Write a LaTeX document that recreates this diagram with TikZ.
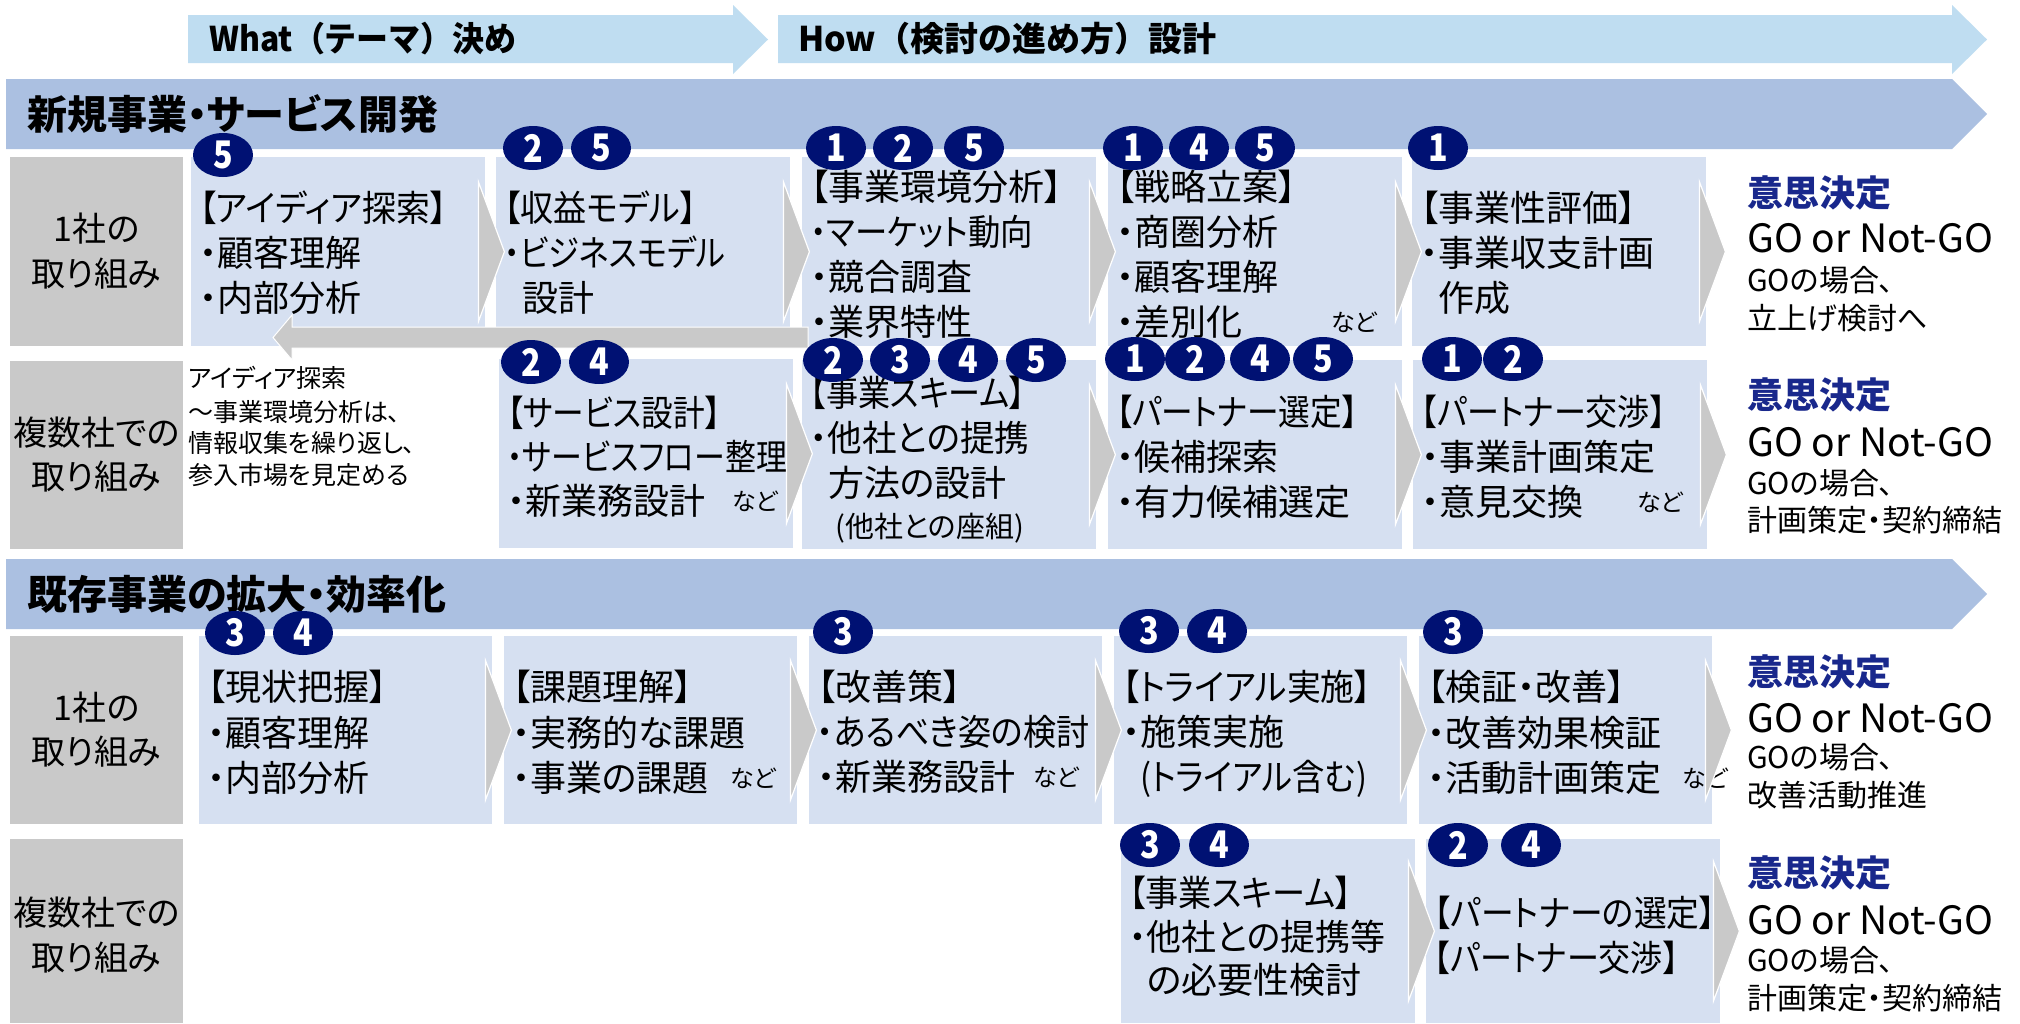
\documentclass[tikz,border=0pt]{standalone}
\usepackage{fontspec}
\usepackage{graphicx}
\usetikzlibrary{shapes.geometric,calc}
\setmainfont{Noto Sans CJK JP}[RawFeature=+palt]
\newfontfamily\jpfull{Noto Sans CJK JP}
\definecolor{toparrow}{RGB}{191,221,241}
\definecolor{banner}{RGB}{171,192,225}
\definecolor{boxc}{RGB}{214,224,241}
\definecolor{grayc}{RGB}{201,201,201}
\definecolor{navy}{RGB}{0,17,115}
\definecolor{dec}{RGB}{25,40,140}
\newcommand\mychev[1]{\path[chev] ($(#1.east)+(-7,-70)$) -- ($(#1.east)+(19,0)$) -- ($(#1.east)+(-7,70)$) -- cycle;}
\newcommand\sx[2]{\scalebox{#1}[1]{#2}}
\begin{document}
\begin{tikzpicture}[x=1pt,y=-1pt,
  gbox/.style={fill=grayc, draw=none, anchor=north west, inner sep=0, minimum width=173pt},
  bbox/.style={fill=boxc, draw=none, anchor=north west, inner sep=0, minimum width=294pt},
  chev/.style={fill=grayc, draw=white, line width=1.2pt},
  retarrow/.style={fill=grayc, draw=white, line width=1pt},
  badge/.style={ellipse, fill=navy, minimum width=60pt, minimum height=44pt, inner sep=0, text=white, font=\bfseries\fontsize{38}{38}\selectfont},
  t36/.style={anchor=west, inner sep=0, font=\fontsize{36}{36}\selectfont, text height=31.7pt, text depth=4.3pt},
  t24/.style={anchor=west, inner sep=0, font=\fontsize{24}{24}\selectfont, text height=21.1pt, text depth=2.9pt},
  t25/.style={anchor=west, inner sep=0, font=\fontsize{25}{25}\selectfont, text height=22pt, text depth=3pt},
  t29/.style={anchor=west, inner sep=0, font=\fontsize{29}{29}\selectfont, text height=25.5pt, text depth=3.5pt},
  t30/.style={anchor=west, inner sep=0, font=\fontsize{30}{30}\selectfont, text height=26.4pt, text depth=3.6pt},
  t39/.style={anchor=west, inner sep=0, font=\fontsize{39}{39}\selectfont, text height=34.3pt, text depth=4.7pt},
  dech/.style={anchor=west, inner sep=0, font=\bfseries\fontsize{36}{36}\selectfont, text height=31.7pt, text depth=4.3pt, text=dec},
  ttl/.style={anchor=west, inner sep=0, font=\bfseries\fontsize{40}{40}\selectfont, text height=35.2pt, text depth=4.8pt},
  arrt/.style={anchor=west, inner sep=0, font=\jpfull\bfseries\fontsize{34}{34}\selectfont, text height=29.9pt, text depth=4.1pt},
  lab/.style={anchor=center, inner sep=0, font=\fontsize{34}{34}\selectfont, text height=29.9pt, text depth=4.1pt},
]
\useasboundingbox (0,0) rectangle (2020,1023);
\fill[white] (0,0) rectangle (2020,1023);

% top arrows
\path[fill=toparrow] (188,15) -- (733,15) -- (733,5) -- (768,39.5) -- (733,74) -- (733,63) -- (188,63) -- cycle;
\path[fill=toparrow] (778,15) -- (1952,15) -- (1952,5) -- (1987,39.5) -- (1952,74) -- (1952,63) -- (778,63) -- cycle;
\node[arrt] (what) at (209,39) {\sx{0.94}{What（テーマ）決め}};
\node[arrt] (how) at (798,39) {How（検討の進め方）設計};

% banners
\path[fill=banner] (6,79) -- (1952,79) -- (1987,114) -- (1952,149) -- (6,149) -- cycle;
\path[fill=banner] (6,559) -- (1952,559) -- (1987,594) -- (1952,629) -- (6,629) -- cycle;
\node[ttl] (ttl1) at (27,114) {新規事業・サービス開発};
\node[ttl] (ttl2) at (27,594) {既存事業の拡大・効率化};

% gray label boxes
\node[gbox, minimum height=189pt] (GA) at (10,157) {};
\node[gbox, minimum height=188pt] (GB) at (10,361) {};
\node[gbox, minimum height=188pt] (GC) at (10,636) {};
\node[gbox, minimum height=184pt] (GD) at (10,839) {};
\node[lab] (GA1) at (96.5,229) {1社の};
\node[lab] (GA2) at (96.5,274) {取り組み};
\node[lab] (GB1) at (96.5,433) {複数社での};
\node[lab] (GB2) at (96.5,477) {取り組み};
\node[lab] (GC1) at (96.5,708) {1社の};
\node[lab] (GC2) at (96.5,752) {取り組み};
\node[lab] (GD1) at (96.5,913) {複数社での};
\node[lab] (GD2) at (96.5,958) {取り組み};

% step boxes
\node[bbox, minimum height=189pt] (A1) at (191,157) {};
\node[bbox, minimum height=189pt] (A2) at (496,157) {};
\node[bbox, minimum height=189pt] (A3) at (802,157) {};
\node[bbox, minimum height=189pt] (A4) at (1108,157) {};
\node[bbox, minimum height=189pt] (A5) at (1412,157) {};
\node[bbox, minimum height=189pt] (B2) at (499,359) {};
\node[bbox, minimum height=189pt] (B3) at (802,360) {};
\node[bbox, minimum height=189pt] (B4) at (1108,360) {};
\node[bbox, minimum height=189pt] (B5) at (1413,360) {};
\node[bbox, minimum width=293pt, minimum height=188pt] (C1) at (199,636) {};
\node[bbox, minimum width=293pt, minimum height=188pt] (C2) at (504,636) {};
\node[bbox, minimum width=293pt, minimum height=188pt] (C3) at (809,636) {};
\node[bbox, minimum width=293pt, minimum height=188pt] (C4) at (1114,636) {};
\node[bbox, minimum width=293pt, minimum height=188pt] (C5) at (1419,636) {};
\node[bbox, minimum height=184pt] (D1) at (1121,839) {};
\node[bbox, minimum height=184pt] (D2) at (1426,839) {};

% return arrow
\path[retarrow] (808,327) -- (292,327) -- (292,315) -- (273,337.5) -- (292,360) -- (292,348) -- (808,348) -- cycle;

% texts row A
\node[t36] (A1a) at (199,208) {\sx{0.94}{【アイディア探索】}};
\node[t36] (A1b) at (199,253) {・顧客理解};
\node[t36] (A1c) at (199,298) {・内部分析};
\node[t36] (A2a) at (504,208) {\sx{0.92}{【収益モデル】}};
\node[t36] (A2b) at (504,253) {\sx{0.87}{・ビジネスモデル}};
\node[t36] (A2c) at (504,298) {\phantom{・}設計};
\node[t36] (A3a) at (810,187) {【事業環境分析】};
\node[t36] (A3b) at (810,232) {\sx{0.9}{・マーケット動向}};
\node[t36] (A3c) at (810,277) {・競合調査};
\node[t36] (A3d) at (810,322) {・業界特性};
\node[t36] (A4a) at (1116,187) {【戦略立案】};
\node[t36] (A4b) at (1116,232) {・商圏分析};
\node[t36] (A4c) at (1116,277) {・顧客理解};
\node[t36] (A4d) at (1116,322) {・差別化};
\node[t24] (A4e) at (1331,322) {など};
\node[t36] (A5a) at (1420,208) {【事業性評価】};
\node[t36] (A5b) at (1420,253) {・事業収支計画};
\node[t36] (A5c) at (1420,298) {\phantom{・}作成};
\node[dech] (DA1) at (1747,193) {意思決定};
\node[t39] (DA2) at (1747,238) {GO or Not-GO};
\node[t30] (DA3) at (1747,280) {GOの場合、};
\node[t30] (DA4) at (1747,318) {立上げ検討へ};

% note
\node[t25] (N1) at (188,378) {アイディア探索};
\node[t25] (N2) at (188,412) {～事業環境分析は、};
\node[t25] (N3) at (188,443) {情報収集を繰り返し、};
\node[t25] (N4) at (188,475) {参入市場を見定める};

% texts row B
\node[t36] (B2a) at (507,413) {\sx{0.88}{【サービス設計】}};
\node[t36] (B2b) at (507,457) {\sx{0.86}{・サービスフロー整理}};
\node[t36] (B2c) at (507,501) {・新業務設計};
\node[t24] (B2d) at (732,501) {など};
\node[t36] (B3a) at (810,393) {\sx{0.89}{【事業スキーム】}};
\node[t36] (B3b) at (810,438) {\sx{0.96}{・他社との提携}};
\node[t36] (B3c) at (810,483) {\phantom{・}方法の設計};
\node[t29] (B3d) at (835,526) {(他社との座組)};
\node[t36] (B4a) at (1116,412) {\sx{0.88}{【パートナー選定】}};
\node[t36] (B4b) at (1116,457) {・候補探索};
\node[t36] (B4c) at (1116,502) {・有力候補選定};
\node[t36] (B5a) at (1421,412) {\sx{0.89}{【パートナー交渉】}};
\node[t36] (B5b) at (1421,457) {・事業計画策定};
\node[t36] (B5c) at (1421,502) {・意見交換};
\node[t24] (B5d) at (1637,502) {など};
\node[dech] (DB1) at (1747,395) {意思決定};
\node[t39] (DB2) at (1747,442) {GO or Not-GO};
\node[t30] (DB3) at (1747,483) {GOの場合、};
\node[t30] (DB4) at (1747,520) {計画策定・契約締結};

% texts row C
\node[t36] (C1a) at (207,687) {【現状把握】};
\node[t36] (C1b) at (207,733) {・顧客理解};
\node[t36] (C1c) at (207,778) {・内部分析};
\node[t36] (C2a) at (512,687) {【課題理解】};
\node[t36] (C2b) at (512,733) {・実務的な課題};
\node[t36] (C2c) at (512,778) {・事業の課題};
\node[t24] (C2d) at (730,778) {など};
\node[t36] (C3a) at (817,687) {【改善策】};
\node[t36] (C3b) at (817,732) {\sx{0.92}{・あるべき姿の検討}};
\node[t36] (C3c) at (817,777) {・新業務設計};
\node[t24] (C3d) at (1033,777) {など};
\node[t36] (C4a) at (1122,687) {\sx{0.94}{【トライアル実施】}};
\node[t36] (C4b) at (1122,732) {・施策実施};
\node[t36] (C4c) at (1122,777) {\phantom{・}\sx{0.9}{(トライアル含む)}};
\node[t36] (C5a) at (1427,687) {【検証・改善】};
\node[t36] (C5b) at (1427,733) {・改善効果検証};
\node[t36] (C5c) at (1427,778) {・活動計画策定};
\node[t24] (C5d) at (1682,778) {など};
\node[dech] (DC1) at (1747,672) {意思決定};
\node[t39] (DC2) at (1747,718) {GO or Not-GO};
\node[t30] (DC3) at (1747,757) {GOの場合、};
\node[t30] (DC4) at (1747,795) {改善活動推進};

% texts row D
\node[t36] (D1a) at (1129,893) {\sx{0.92}{【事業スキーム】}};
\node[t36] (D1b) at (1129,937) {\sx{0.97}{・他社との提携等}};
\node[t36] (D1c) at (1129,980) {\phantom{・}の必要性検討};
\node[t36] (D2a) at (1434,913) {\sx{0.91}{【パートナーの選定】}};
\node[t36] (D2b) at (1434,958) {\sx{0.89}{【パートナー交渉】}};
\node[dech] (DD1) at (1747,873) {意思決定};
\node[t39] (DD2) at (1747,920) {GO or Not-GO};
\node[t30] (DD3) at (1747,960) {GOの場合、};
\node[t30] (DD4) at (1747,998) {計画策定・契約締結};

% chevrons
\mychev{A1}\mychev{A2}\mychev{A3}\mychev{A4}\mychev{A5}
\mychev{B2}\mychev{B3}\mychev{B4}\mychev{B5}
\mychev{C1}\mychev{C2}\mychev{C3}\mychev{C4}\mychev{C5}
\mychev{D1}\mychev{D2}

% badges
\node[badge] (kA1a) at (223,155) {\sx{0.85}{5}};
\node[badge] (kA2a) at (533,148) {\sx{0.85}{2}};
\node[badge] (kA2b) at (601,148) {\sx{0.85}{5}};
\node[badge] (kA3a) at (836,148) {\sx{0.85}{1}};
\node[badge] (kA3b) at (903,148) {\sx{0.85}{2}};
\node[badge] (kA3c) at (974,148) {\sx{0.85}{5}};
\node[badge] (kA4a) at (1133,148) {\sx{0.85}{1}};
\node[badge] (kA4b) at (1199,148) {\sx{0.85}{4}};
\node[badge] (kA4c) at (1265,148) {\sx{0.85}{5}};
\node[badge] (kA5a) at (1438,148) {\sx{0.85}{1}};
\node[badge] (kB2a) at (531,362) {\sx{0.85}{2}};
\node[badge] (kB2b) at (599,362) {\sx{0.85}{4}};
\node[badge] (kB3a) at (833,360) {\sx{0.85}{2}};
\node[badge] (kB3b) at (900,360) {\sx{0.85}{3}};
\node[badge] (kB3c) at (968,360) {\sx{0.85}{4}};
\node[badge] (kB3d) at (1036,360) {\sx{0.85}{5}};
\node[badge] (kB4a) at (1135,359) {\sx{0.85}{1}};
\node[badge] (kB4b) at (1195,359) {\sx{0.85}{2}};
\node[badge] (kB4c) at (1260,359) {\sx{0.85}{4}};
\node[badge] (kB4d) at (1323,359) {\sx{0.85}{5}};
\node[badge] (kB5a) at (1452,359) {\sx{0.85}{1}};
\node[badge] (kB5b) at (1513,359) {\sx{0.85}{2}};
\node[badge] (kC1a) at (235,633) {\sx{0.85}{3}};
\node[badge] (kC1b) at (303,633) {\sx{0.85}{4}};
\node[badge] (kC3a) at (843,632) {\sx{0.85}{3}};
\node[badge] (kC4a) at (1149,631) {\sx{0.85}{3}};
\node[badge] (kC4b) at (1217,631) {\sx{0.85}{4}};
\node[badge] (kC5a) at (1453,632) {\sx{0.85}{3}};
\node[badge] (kD1a) at (1150,845) {\sx{0.85}{3}};
\node[badge] (kD1b) at (1219,845) {\sx{0.85}{4}};
\node[badge] (kD2a) at (1458,845) {\sx{0.85}{2}};
\node[badge] (kD2b) at (1531,845) {\sx{0.85}{4}};
\end{tikzpicture}
\end{document}
